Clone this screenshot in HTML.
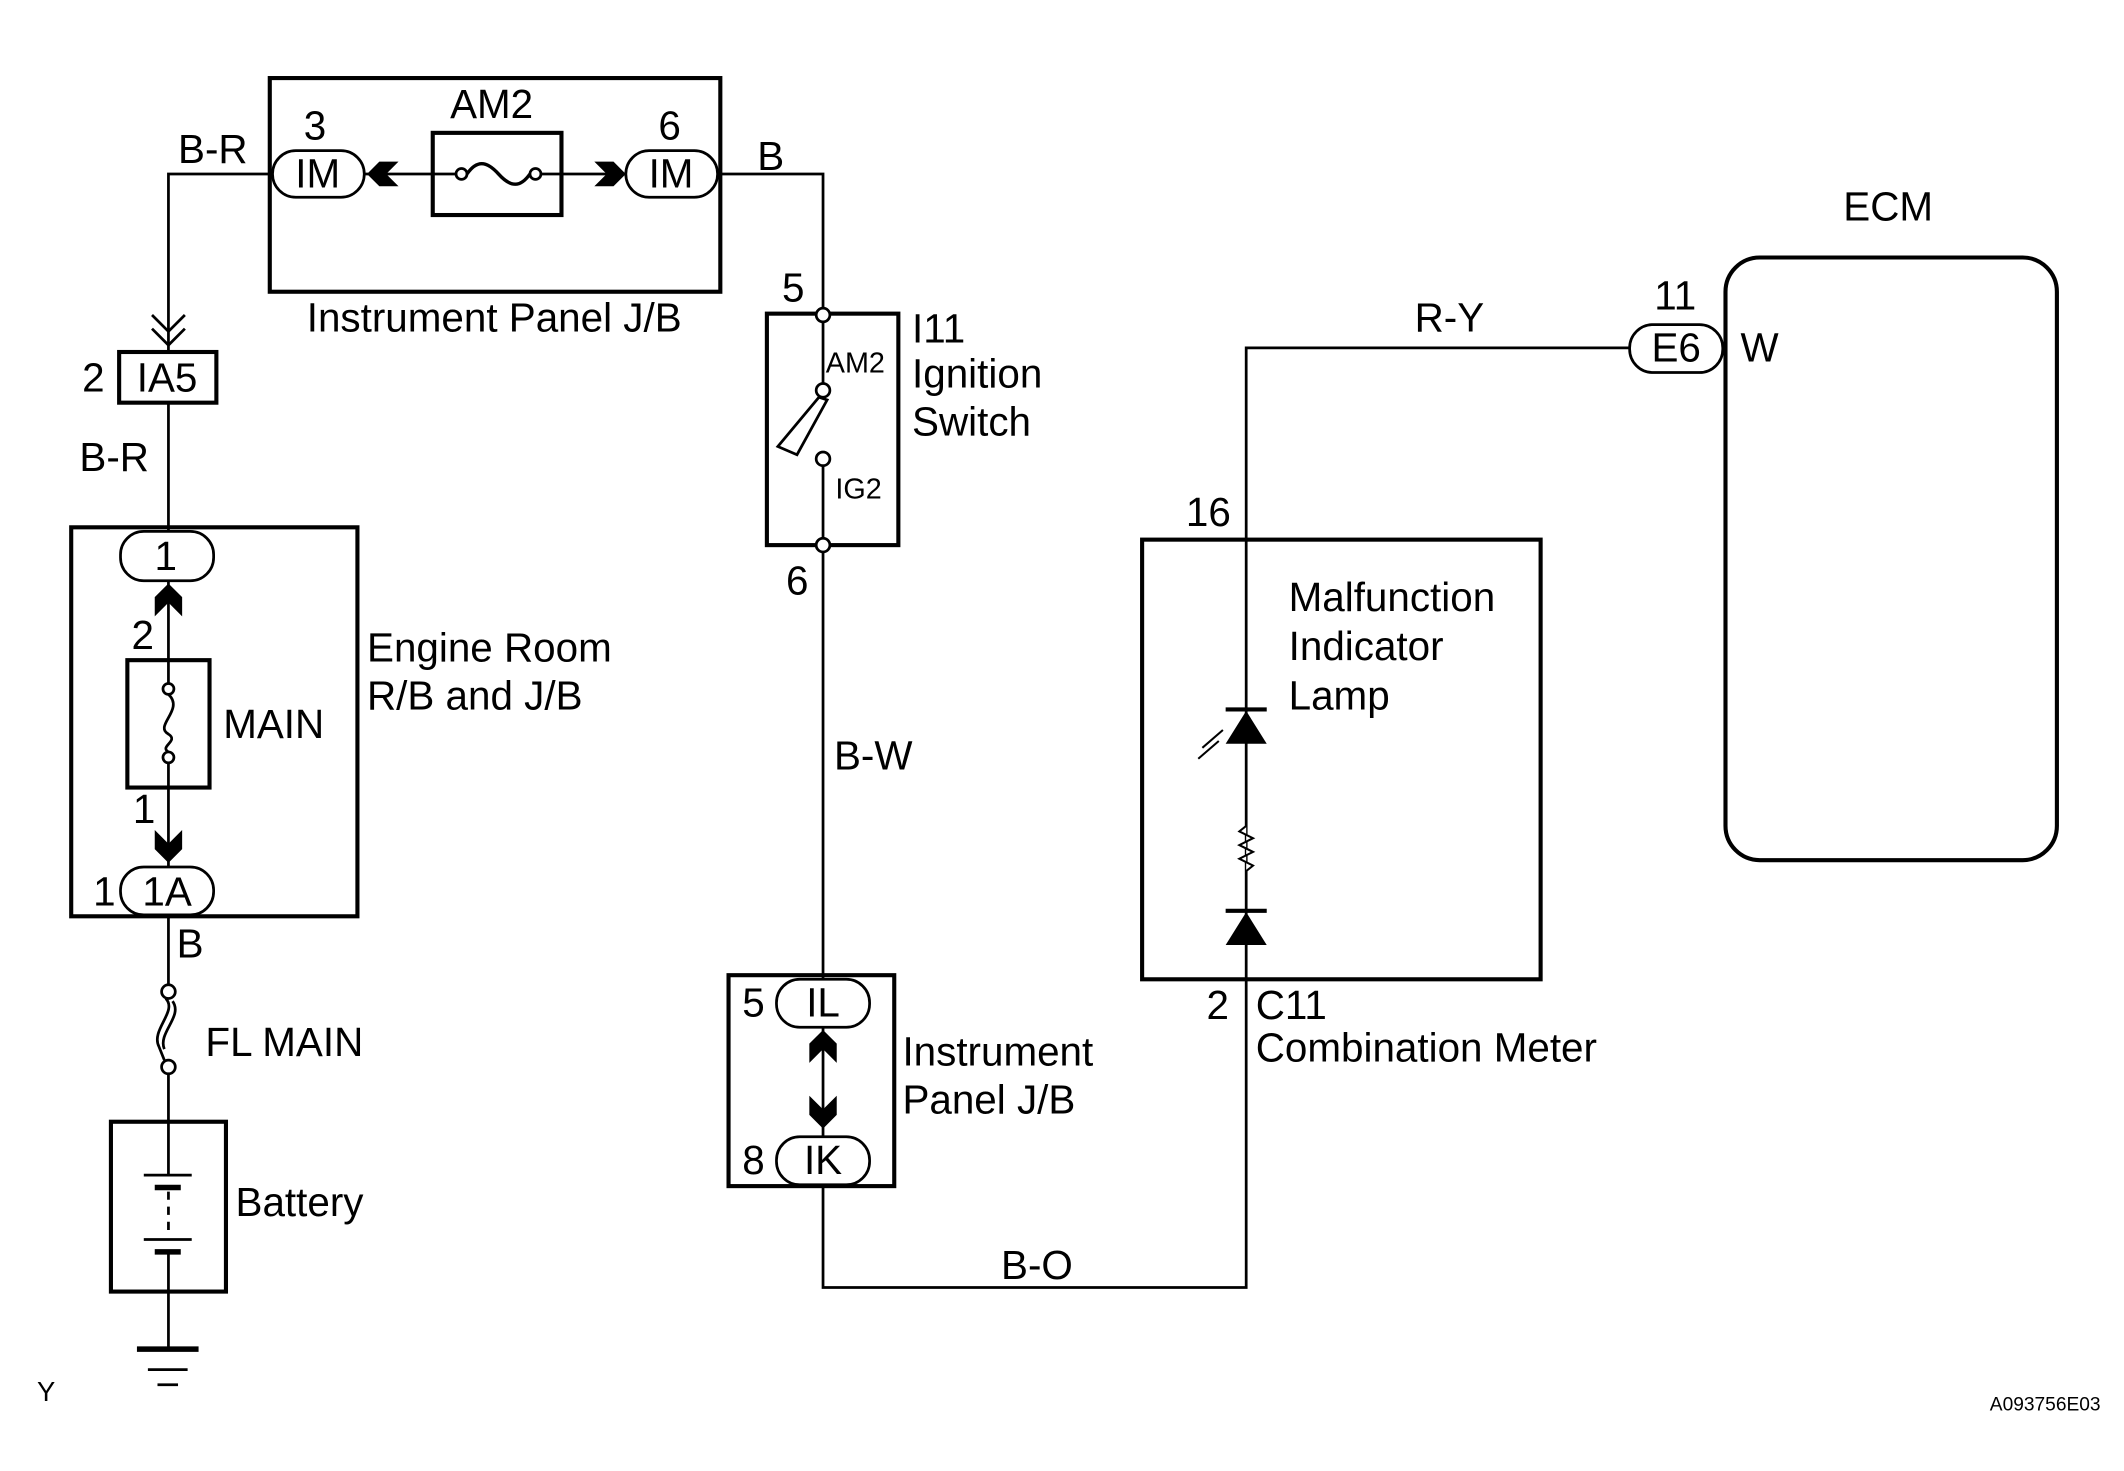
<!DOCTYPE html>
<html><head><meta charset="utf-8"><style>
html,body{margin:0;padding:0;background:#fff;}
svg{display:block;}
text{font-family:"Liberation Sans",Arial,sans-serif;fill:#000;}
</style></head><body>
<svg width="2124" height="1471" viewBox="0 0 1551 1074" preserveAspectRatio="none" xmlns="http://www.w3.org/2000/svg">
<g fill="none" stroke="#000" stroke-width="2">
<rect x="197" y="57" width="329" height="156" stroke-width="3"/>
<rect x="199" y="110" width="67" height="34" rx="17"/>
<rect x="457" y="110" width="67" height="34" rx="17"/>
<rect x="316" y="97" width="94" height="60" stroke-width="3"/>
<line x1="266" y1="127" x2="333" y2="127"/>
<line x1="395" y1="127" x2="457" y2="127"/>
<circle cx="337" cy="127" r="4" fill="#fff"/>
<circle cx="391" cy="127" r="4" fill="#fff"/>
<path d="M341 127 C348 117,355 117,364 127 C373 137,380 137,387 127" stroke-width="2.5"/>
<polyline points="199,127 123,127 123,257"/>
<polyline points="111,230 123,242 135,230"/>
<polyline points="111,240 123,252 135,240"/>
<rect x="87" y="257" width="71" height="37" stroke-width="3"/>
<line x1="123" y1="294" x2="123" y2="388"/>
<polyline points="524,127 601,127 601,226"/>
<rect x="560" y="229" width="96" height="169" stroke-width="3"/>
<line x1="601" y1="234" x2="601" y2="281"/>
<line x1="601" y1="339" x2="601" y2="394"/>
<circle cx="601" cy="230" r="5" fill="#fff"/>
<circle cx="601" cy="285" r="5" fill="#fff"/>
<circle cx="601" cy="335" r="5" fill="#fff"/>
<circle cx="601" cy="398" r="5" fill="#fff"/>
<polygon points="598,290 604,292 582,332 568,326"/>
<line x1="601" y1="403" x2="601" y2="715"/>
<rect x="532" y="712" width="121" height="154" stroke-width="3"/>
<rect x="567" y="715" width="68" height="35" rx="17"/>
<rect x="567" y="830" width="68" height="35" rx="17"/>
<line x1="601" y1="750" x2="601" y2="830"/>
<polyline points="601,866 601,940 910,940 910,254 1190,254"/>
<rect x="834" y="394" width="291" height="321" stroke-width="3"/>
<line x1="895" y1="518" x2="925" y2="518" stroke-width="3"/>
<line x1="895" y1="665" x2="925" y2="665" stroke-width="3"/>
<polyline points="910,603 905,607 915,612 905,617 915,622 905,627 915,632 910,636" stroke-width="1.5" fill="#fff"/>
<line x1="893" y1="533" x2="878" y2="546" stroke-width="1.5"/>
<line x1="890" y1="541" x2="875" y2="554" stroke-width="1.5"/>
<rect x="1190" y="237" width="68" height="35" rx="17"/>
<rect x="1260" y="188" width="242" height="440" rx="25" stroke-width="3"/>
<rect x="52" y="385" width="209" height="284" stroke-width="3"/>
<rect x="88" y="388" width="68" height="36" rx="17"/>
<rect x="88" y="633" width="68" height="35" rx="17"/>
<line x1="123" y1="424" x2="123" y2="500"/>
<line x1="123" y1="557" x2="123" y2="633"/>
<rect x="93" y="482" width="60" height="93" stroke-width="3"/>
<circle cx="123" cy="503" r="4" fill="#fff"/>
<circle cx="123" cy="553" r="4" fill="#fff"/>
<path d="M123 507 C135 518,112 530,123 536 C131 541,116 545,123 549" stroke-width="2"/>
<line x1="123" y1="668" x2="123" y2="720"/>
<circle cx="123" cy="724" r="5" fill="#fff"/>
<circle cx="123" cy="779" r="5" fill="#fff"/>
<path d="M121 729 C130 738,110 752,116 764 L120 774 M126 731 C134 742,115 754,120 766" stroke-width="2"/>
<line x1="123" y1="784" x2="123" y2="819"/>
<rect x="81" y="819" width="84" height="124" stroke-width="3"/>
<line x1="123" y1="819" x2="123" y2="858"/>
<line x1="105" y1="858" x2="140" y2="858"/>
<line x1="113" y1="867" x2="132" y2="867" stroke-width="4"/>
<line x1="123" y1="870" x2="123" y2="902" stroke-dasharray="6,5"/>
<line x1="105" y1="905" x2="140" y2="905"/>
<line x1="113" y1="914" x2="132" y2="914" stroke-width="4"/>
<line x1="123" y1="914" x2="123" y2="985"/>
<line x1="100" y1="985" x2="145" y2="985" stroke-width="4"/>
<line x1="108" y1="1000" x2="137" y2="1000"/>
<line x1="115" y1="1011" x2="130" y2="1011"/>
</g>
<g fill="#000">
<polygon points="291,118 282,127 291,136 277,136 268,127 277,118"/>
<polygon points="434,118 443,127 434,136 448,136 457,127 448,118"/>
<polygon points="895,543 925,543 910,519"/>
<polygon points="895,690 925,690 910,666"/>
<polygon points="113,450 123,440 133,450 133,436 123,426 113,436"/>
<polygon points="113,606 123,616 133,606 133,620 123,630 113,620"/>
<polygon points="591,776 601,766 611,776 611,762 601,752 591,762"/>
<polygon points="591,800 601,810 611,800 611,814 601,824 591,814"/>
</g>
<g font-size="29.5">
<text x="359" y="86" text-anchor="middle">AM2</text>
<text x="230" y="102" text-anchor="middle">3</text>
<text x="489" y="102" text-anchor="middle">6</text>
<text x="232" y="137" text-anchor="middle">IM</text>
<text x="490" y="137" text-anchor="middle">IM</text>
<text x="130" y="119">B-R</text>
<text x="553" y="124">B</text>
<text x="224" y="242">Instrument Panel J/B</text>
<text x="60" y="286">2</text>
<text x="122" y="286" text-anchor="middle">IA5</text>
<text x="58" y="344">B-R</text>
<text x="571" y="220">5</text>
<text x="574" y="434">6</text>
<text x="666" y="250">I11</text>
<text x="666" y="283">Ignition</text>
<text x="666" y="318">Switch</text>
<text x="609" y="562">B-W</text>
<text x="121" y="416" text-anchor="middle">1</text>
<text x="96" y="474">2</text>
<text x="163" y="539">MAIN</text>
<text x="97" y="601">1</text>
<text x="68" y="661">1</text>
<text x="122" y="661" text-anchor="middle">1A</text>
<text x="268" y="483">Engine Room</text>
<text x="268" y="518">R/B and J/B</text>
<text x="129" y="699">B</text>
<text x="150" y="771">FL MAIN</text>
<text x="172" y="888">Battery</text>
<text x="542" y="742">5</text>
<text x="601" y="742" text-anchor="middle">IL</text>
<text x="542" y="857">8</text>
<text x="601" y="857" text-anchor="middle">IK</text>
<text x="659" y="778">Instrument</text>
<text x="659" y="813">Panel J/B</text>
<text x="731" y="934">B-O</text>
<text x="866" y="384">16</text>
<text x="881" y="744">2</text>
<text x="917" y="744">C11</text>
<text x="917" y="775">Combination Meter</text>
<text x="941" y="446">Malfunction</text>
<text x="941" y="482">Indicator</text>
<text x="941" y="518">Lamp</text>
<text x="1033" y="242">R-Y</text>
<text x="1208" y="226">11</text>
<text x="1224" y="264" text-anchor="middle">E6</text>
<text x="1271" y="264">W</text>
<text x="1346" y="161">ECM</text>
</g>
<text x="603" y="272" font-size="21">AM2</text>
<text x="610" y="364" font-size="21">IG2</text>
<text x="27" y="1023" font-size="20">Y</text>
<text x="1453" y="1030" font-size="14">A093756E03</text>
</svg>
</body></html>
